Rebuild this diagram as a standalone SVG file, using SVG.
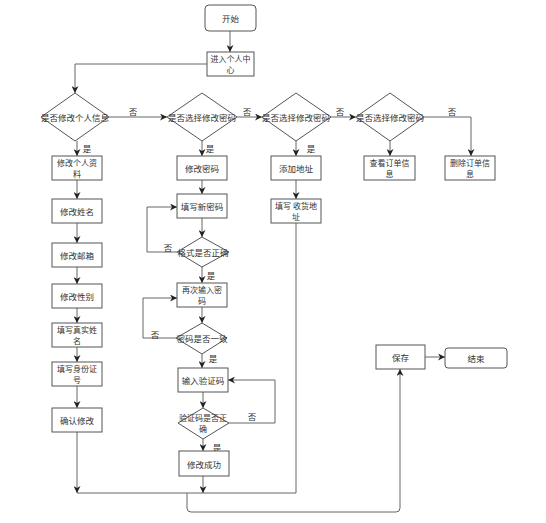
<svg xmlns="http://www.w3.org/2000/svg" width="546" height="523" viewBox="0 0 546 523">
<style>
.b{fill:#fff;stroke:#555;stroke-width:1}
.t{font-family:"Noto Sans CJK SC","Noto Sans",sans-serif;font-size:8.5px;fill:#333;text-anchor:middle;dominant-baseline:central}
.w{font-size:8px}
.c{fill:none;stroke:#666;stroke-width:1}
.l{font-family:"Noto Sans CJK SC","Noto Sans",sans-serif;font-size:8.5px;fill:#333;text-anchor:middle;dominant-baseline:central}
</style>
<defs>
<marker id="a" viewBox="0 0 10 10" refX="10" refY="5" markerWidth="7" markerHeight="7" orient="auto" markerUnits="userSpaceOnUse"><path d="M0,0 L10,5 L0,10 L3,5 Z" fill="#222"/></marker>
</defs>
<rect width="546" height="523" fill="#fff"/>
<g id="connectors">
<path class="c" d="M230,31 V52" marker-end="url(#a)"/>
<path class="c" d="M207,64 H75 V93" marker-end="url(#a)"/>
<path class="c" d="M109,117 H167" marker-end="url(#a)"/>
<path class="c" d="M237,117 H262" marker-end="url(#a)"/>
<path class="c" d="M331,117 H356" marker-end="url(#a)"/>
<path class="c" d="M424,117 H471 V156" marker-end="url(#a)"/>
<path class="c" d="M390,141 V156" marker-end="url(#a)"/>
<path class="c" d="M296,141 V156" marker-end="url(#a)"/>
<path class="c" d="M296,180 V199" marker-end="url(#a)"/>
<path class="c" d="M296,223 V493 H77"/>
<path class="c" d="M77,141 V156" marker-end="url(#a)"/>
<path class="c" d="M77,180 V199" marker-end="url(#a)"/>
<path class="c" d="M77,223 V243" marker-end="url(#a)"/>
<path class="c" d="M77,267 V284" marker-end="url(#a)"/>
<path class="c" d="M77,308 V323" marker-end="url(#a)"/>
<path class="c" d="M77,347 V362" marker-end="url(#a)"/>
<path class="c" d="M77,386 V408" marker-end="url(#a)"/>
<path class="c" d="M77,432 V493" marker-end="url(#a)"/>
<path class="c" d="M202,141 V156" marker-end="url(#a)"/>
<path class="c" d="M202,180 V194" marker-end="url(#a)"/>
<path class="c" d="M202,218 V237" marker-end="url(#a)"/>
<path class="c" d="M177,252 H147 V207 H177" marker-end="url(#a)"/>
<path class="c" d="M202,267 V283" marker-end="url(#a)"/>
<path class="c" d="M202,307 V323" marker-end="url(#a)"/>
<path class="c" d="M176,338 H143 V298 H177" marker-end="url(#a)"/>
<path class="c" d="M202,354 V368" marker-end="url(#a)"/>
<path class="c" d="M203,392 V408" marker-end="url(#a)"/>
<path class="c" d="M229,423 H275 V380 H228" marker-end="url(#a)"/>
<path class="c" d="M203,439 V451" marker-end="url(#a)"/>
<path class="c" d="M203,476 V493" marker-end="url(#a)"/>
<path class="c" d="M187,493 V508 Q187,512 191,512 H396 Q400,512 400,508 V369" marker-end="url(#a)"/>
<path class="c" d="M425,357 H445" marker-end="url(#a)"/>
<text class="l" x="133" y="111">否</text>
<text class="l" x="247" y="111">否</text>
<text class="l" x="340" y="111">否</text>
<text class="l" x="452" y="111">否</text>
<text class="l" x="87" y="148">是</text>
<text class="l" x="210" y="148">是</text>
<text class="l" x="311" y="148">是</text>
<text class="l" x="168" y="247">否</text>
<text class="l" x="211" y="275">是</text>
<text class="l" x="155" y="334">否</text>
<text class="l" x="213" y="358">是</text>
<text class="l" x="252" y="416">否</text>
<text class="l" x="217" y="447">是</text>
</g>
<g id="start"><rect class="b" x="205" y="5" width="51" height="26" rx="4"/><text class="t" x="230.5" y="18">开始</text></g>
<g id="center"><rect class="b" x="207" y="52" width="47" height="24"/><text class="t w" x="230.5" y="58.2">进入个人中</text><text class="t w" x="230.5" y="69.8">心</text></g>
<g id="d1"><polygon class="b" points="75,93 109,117 75,141 41,117"/><text class="t" x="75" y="117">是否修改个人信息</text></g>
<g id="d2"><polygon class="b" points="202,93 237,117 202,141 167,117"/><text class="t" x="202" y="117">是否选择修改密码</text></g>
<g id="d3"><polygon class="b" points="296,93 331,117 296,141 262,117"/><text class="t" x="296" y="117">是否选择修改密码</text></g>
<g id="d4"><polygon class="b" points="390,93 424,117 390,141 356,117"/><text class="t" x="390" y="117">是否选择修改密码</text></g>
<g id="n1"><rect class="b" x="52" y="156" width="50" height="24"/><text class="t w" x="77" y="162.2">修改个人资</text><text class="t w" x="77" y="173.8">料</text></g>
<g id="n2"><rect class="b" x="52" y="199" width="50" height="24"/><text class="t" x="77" y="211">修改姓名</text></g>
<g id="n3"><rect class="b" x="52" y="243" width="50" height="24"/><text class="t" x="77" y="255">修改邮箱</text></g>
<g id="n4"><rect class="b" x="52" y="284" width="50" height="24"/><text class="t" x="77" y="296">修改性别</text></g>
<g id="n5"><rect class="b" x="52" y="323" width="50" height="24"/><text class="t w" x="77" y="329.2">填写真实姓</text><text class="t w" x="77" y="340.8">名</text></g>
<g id="n6"><rect class="b" x="52" y="362" width="50" height="24"/><text class="t w" x="77" y="368.2">填写身份证</text><text class="t w" x="77" y="379.8">号</text></g>
<g id="n7"><rect class="b" x="52" y="408" width="50" height="24"/><text class="t" x="77" y="420">确认修改</text></g>
<g id="p1"><rect class="b" x="177" y="156" width="50" height="24"/><text class="t" x="202" y="168">修改密码</text></g>
<g id="p2"><rect class="b" x="177" y="194" width="50" height="24"/><text class="t" x="202" y="206">填写新密码</text></g>
<g id="pd1"><polygon class="b" points="202,237 229,252 202,267 177,252"/><text class="t" x="203" y="252">格式是否正确</text></g>
<g id="p3"><rect class="b" x="177" y="283" width="50" height="24"/><text class="t w" x="202" y="289.2">再次输入密</text><text class="t w" x="202" y="300.8">码</text></g>
<g id="pd2"><polygon class="b" points="202,323 227,338 202,354 176,338"/><text class="t" x="202" y="338">密码是否一致</text></g>
<g id="p4"><rect class="b" x="178" y="368" width="50" height="24"/><text class="t" x="203" y="380">输入验证码</text></g>
<g id="pd3"><polygon class="b" points="203,408 229,423 203,439 178,423"/><text class="t w" x="203" y="417.2">验证码是否正</text><text class="t w" x="203" y="428.8">确</text></g>
<g id="p5"><rect class="b" x="179" y="451" width="50" height="25"/><text class="t" x="204" y="463.5">修改成功</text></g>
<g id="a1"><rect class="b" x="271" y="156" width="50" height="24"/><text class="t" x="296" y="168">添加地址</text></g>
<g id="a2"><rect class="b" x="271" y="199" width="50" height="24"/><text class="t w" x="296" y="205.2">填写 收货地</text><text class="t w" x="296" y="216.8">址</text></g>
<g id="o1"><rect class="b" x="364" y="156" width="51" height="24"/><text class="t w" x="389.5" y="162.2">查看订单信</text><text class="t w" x="389.5" y="173.8">息</text></g>
<g id="o2"><rect class="b" x="445" y="156" width="50" height="24"/><text class="t w" x="470" y="162.2">删除订单信</text><text class="t w" x="470" y="173.8">息</text></g>
<g id="save"><rect class="b" x="376" y="345" width="49" height="24"/><text class="t" x="400.5" y="357">保存</text></g>
<g id="end"><rect class="b" x="445" y="348" width="62" height="20" rx="3"/><text class="t" x="476" y="358">结束</text></g>
</svg>
